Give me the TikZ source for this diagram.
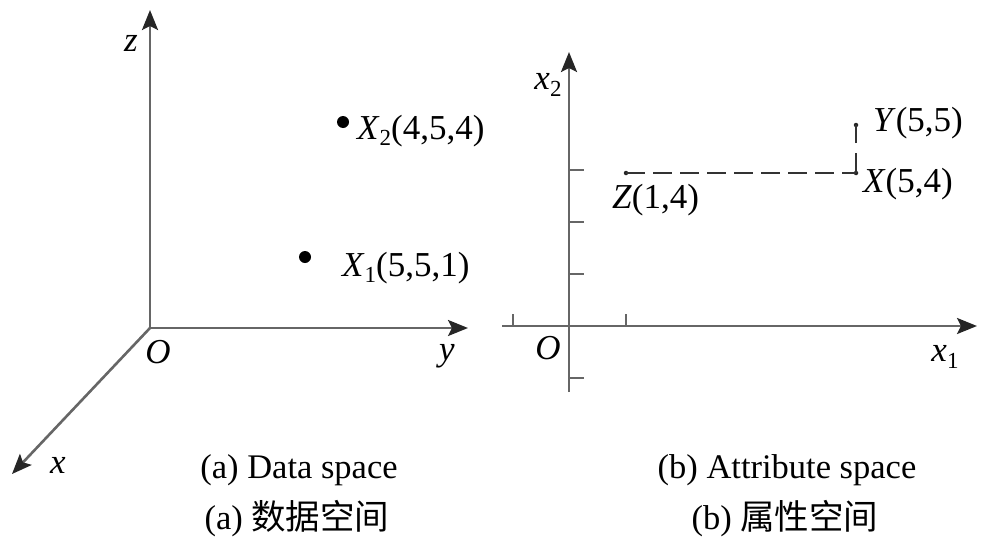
\documentclass[tikz,border=0pt]{standalone}
\usepackage{fontspec}
\setmainfont{Liberation Serif}
\newfontfamily\cjk{Noto Sans CJK SC}
\usetikzlibrary{arrows.meta}
\newcommand\subidx[1]{\raisebox{-0.4ex}{\fontsize{23}{23}\selectfont #1}}
\begin{document}
\begin{tikzpicture}[x=1pt,y=-1pt,
  axis/.style={draw=black!60, line width=2.6pt,
    -{Stealth[length=20pt,width=16pt,inset=4pt,color=black!85]}},
  tickline/.style={draw=black!60, line width=2.2pt},
  lbl/.style={font=\fontsize{35}{40}\selectfont, inner sep=0pt},
  ilbl/.style={font=\fontsize{35}{40}\selectfont\itshape, inner sep=0pt},
  caption/.style={font=\fontsize{34.5}{40}\selectfont, inner sep=0pt},
  bigdot/.style={circle, fill=black, inner sep=0pt, minimum size=12pt},
  smalldot/.style={circle, fill=black!85, inner sep=0pt, minimum size=4.5pt},
  dashline/.style={draw=black!80, line width=2.4pt, dash pattern=on 19pt off 8pt}]
\useasboundingbox (0,0) rectangle (988,557);
% ---------- left panel ----------
\coordinate (O1) at (150,328);
\coordinate (Ztip) at (150,10);
\coordinate (Ytip) at (468,328);
\coordinate (Xtip) at (12,474);
\draw[axis] (O1) -- (Ztip);
\draw[axis] (O1) -- (Ytip);
\draw[axis] (O1) -- (Xtip);
\node[ilbl] (zl) at (131,43) {z};
\node[ilbl] (ol) at (158,352) {O};
\node[ilbl] (yl) at (447,356) {y};
\node[ilbl] (xl) at (58,465) {x};
\node[bigdot] (p2) at (343,122) {};
\node[bigdot] (p1) at (305,257) {};
\node[lbl, anchor=west] (p2l) at (357,131) {\textit{X}\subidx{2}(4,5,4)};
\node[lbl, anchor=west] (p1l) at (342,268) {\textit{X}\subidx{1}(5,5,1)};
% ---------- right panel ----------
\coordinate (O2) at (569,326);
\coordinate (x1start) at (502,326);
\coordinate (x1tip) at (977,326);
\coordinate (x2start) at (569,392);
\coordinate (x2tip) at (569,52);
\draw[axis] (x1start) -- (x1tip);
\draw[axis] (x2start) -- (x2tip);
\foreach \yy in {170,222,274,378} {\draw[tickline] (569,\yy) -- (584,\yy);}
\foreach \xx in {513,626} {\draw[tickline] (\xx,326) -- (\xx,314);}
\node[lbl] (x2l) at (548,85) {\textit{x}\subidx{2}};
\node[ilbl] (o2l) at (548,348) {O};
\node[lbl] (x1l) at (945,357) {\textit{x}\subidx{1}};
\node[smalldot] (Zp) at (626,173) {};
\node[smalldot] (Xp) at (856,173) {};
\node[smalldot] (Yp) at (856,125) {};
\draw[dashline] (Zp.center) -- (Xp.center);
\draw[draw=black!80, line width=2.2pt, dash pattern=on 20pt off 10pt] (Xp.center) -- (Yp.center);
\node[lbl, anchor=west] (Yl) at (873,123) {\textit{Y}(5,5)};
\node[lbl, anchor=west] (Xl) at (863,184) {\textit{X}(5,4)};
\node[lbl, anchor=west] (Zl) at (612,200) {\textit{Z}(1,4)};
% ---------- captions ----------
\node[caption] (ca1) at (299,470) {(a) Data space};
\node[caption] (ca2) at (297,519) {(a) {\cjk 数据空间}};
\node[caption] (cb1) at (787,470) {(b) Attribute space};
\node[caption] (cb2) at (785,519) {(b) {\cjk 属性空间}};
\end{tikzpicture}
\end{document}
